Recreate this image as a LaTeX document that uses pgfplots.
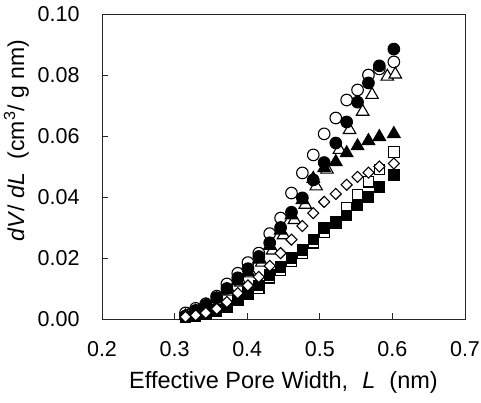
\documentclass[border=0pt]{standalone}
\usepackage{pgfplots}
\pgfplotsset{compat=1.18}
\usepackage{fontspec}
\setmainfont{Liberation Sans}

\begin{document}
\begin{tikzpicture}
\useasboundingbox (-102pt,-83pt) rectangle (379pt,319pt);
\begin{axis}[
  at={(0pt,0pt)}, anchor=south west,
  scale only axis, width=363pt, height=305pt,
  xmin=0.2, xmax=0.7, ymin=0, ymax=0.1,
  xtick={0.2,0.3,0.4,0.5,0.6,0.7},
  xticklabels={0.2,0.3,0.4,0.5,0.6,0.7},
  ytick={0,0.02,0.04,0.06,0.08,0.1},
  yticklabels={0.00,0.02,0.04,0.06,0.08,0.10},
  tick align=inside, tick pos=left,
  major tick length=6pt,
  axis line style={line width=0.9pt, black!85},
  tick style={line width=0.9pt, black!85},
  ticklabel style={font=\fontsize{21.5}{25}\selectfont},
  xticklabel style={yshift=-19pt},
  yticklabel style={xshift=-19pt},
  xlabel={Effective Pore Width,\hspace{0.6em}\textit{L}\hspace{0.6em}(nm)},
  xlabel style={font=\fontsize{23.5}{27}\selectfont, at={(axis description cs:0.5,-0.207)}, anchor=center},
  ylabel={\textit{dV}/ \textit{dL}\hspace{0.6em}(cm\textsuperscript{3}/ g nm)},
  ylabel style={font=\fontsize{23}{27}\selectfont, at={(axis description cs:-0.236,0.585)}, anchor=center},
  clip=false,
]
% open circles
\addplot[only marks, mark=*, mark size=5.8pt, mark options={fill=white, draw=black, line width=1.1pt}] coordinates {
(0.315,0.0020)(0.329,0.0035)(0.343,0.0050)(0.358,0.0075)(0.372,0.0115)(0.387,0.0150)(0.401,0.0185)(0.416,0.0216)(0.431,0.0280)(0.446,0.0331)(0.461,0.0413)(0.476,0.0479)(0.491,0.0538)(0.506,0.0607)(0.522,0.0659)(0.537,0.0718)(0.552,0.0751)(0.567,0.0800)(0.582,0.0820)(0.602,0.0843)};
% open triangles
\addplot[only marks, mark=triangle*, mark size=7.2pt, mark options={fill=white, draw=black, line width=1.1pt}] coordinates {
(0.319,0.0012)(0.333,0.0025)(0.347,0.0040)(0.362,0.0060)(0.376,0.0090)(0.391,0.0120)(0.405,0.0150)(0.420,0.0185)(0.435,0.0225)(0.450,0.0275)(0.465,0.0325)(0.480,0.0375)(0.495,0.0435)(0.510,0.0490)(0.527,0.0555)(0.541,0.0620)(0.559,0.0680)(0.572,0.0735)(0.593,0.0795)(0.604,0.0802)};
% filled triangles
\addplot[only marks, mark=triangle*, mark size=7.2pt, mark options={fill=black, draw=black, line width=1.1pt}] coordinates {
(0.315,0.0010)(0.329,0.0025)(0.343,0.0045)(0.358,0.0065)(0.372,0.0095)(0.387,0.0125)(0.401,0.0155)(0.416,0.0195)(0.431,0.0240)(0.446,0.0290)(0.461,0.0340)(0.476,0.0390)(0.491,0.0460)(0.506,0.0495)(0.522,0.0515)(0.537,0.0544)(0.552,0.0567)(0.567,0.0584)(0.582,0.0597)(0.602,0.0607)};
% filled circles
\addplot[only marks, mark=*, mark size=5.8pt, mark options={fill=black, draw=black, line width=1.1pt}] coordinates {
(0.315,0.0010)(0.329,0.0028)(0.343,0.0045)(0.358,0.0070)(0.372,0.0100)(0.387,0.0135)(0.401,0.0165)(0.416,0.0205)(0.431,0.0250)(0.446,0.0300)(0.461,0.0350)(0.476,0.0397)(0.491,0.0456)(0.506,0.0513)(0.522,0.0577)(0.537,0.0646)(0.552,0.0711)(0.567,0.0774)(0.582,0.0830)(0.602,0.0885)};
% open squares
\addplot[only marks, mark=square*, mark size=5.2pt, mark options={fill=white, draw=black, line width=1.1pt}] coordinates {
(0.315,0.0005)(0.329,0.0010)(0.343,0.0015)(0.358,0.0025)(0.372,0.0040)(0.387,0.0060)(0.401,0.0080)(0.416,0.0100)(0.431,0.0135)(0.446,0.0160)(0.461,0.0190)(0.476,0.0215)(0.491,0.0250)(0.506,0.0285)(0.522,0.0320)(0.537,0.0366)(0.552,0.0407)(0.567,0.0450)(0.582,0.0490)(0.602,0.0548)};
% filled squares
\addplot[only marks, mark=square*, mark size=5.2pt, mark options={fill=black, draw=black, line width=1.1pt}] coordinates {
(0.315,0.0005)(0.329,0.0010)(0.343,0.0018)(0.358,0.0030)(0.372,0.0045)(0.387,0.0065)(0.401,0.0085)(0.416,0.0110)(0.431,0.0144)(0.446,0.0170)(0.461,0.0200)(0.476,0.0226)(0.491,0.0260)(0.506,0.0298)(0.522,0.0315)(0.537,0.0340)(0.552,0.0374)(0.567,0.0400)(0.582,0.0433)(0.602,0.0472)};
% open diamonds
\addplot[only marks, mark=square*, mark size=3.9pt, mark options={rotate=45, fill=white, draw=black, line width=1.1pt}] coordinates {
(0.315,0.0007)(0.329,0.0012)(0.343,0.0020)(0.358,0.0033)(0.372,0.0056)(0.387,0.0085)(0.401,0.0110)(0.416,0.0138)(0.431,0.0174)(0.446,0.0216)(0.461,0.0260)(0.476,0.0305)(0.491,0.0347)(0.506,0.0384)(0.522,0.0410)(0.537,0.0440)(0.552,0.0466)(0.567,0.0480)(0.582,0.0500)(0.602,0.0510)};
\end{axis}
\end{tikzpicture}
\end{document}
